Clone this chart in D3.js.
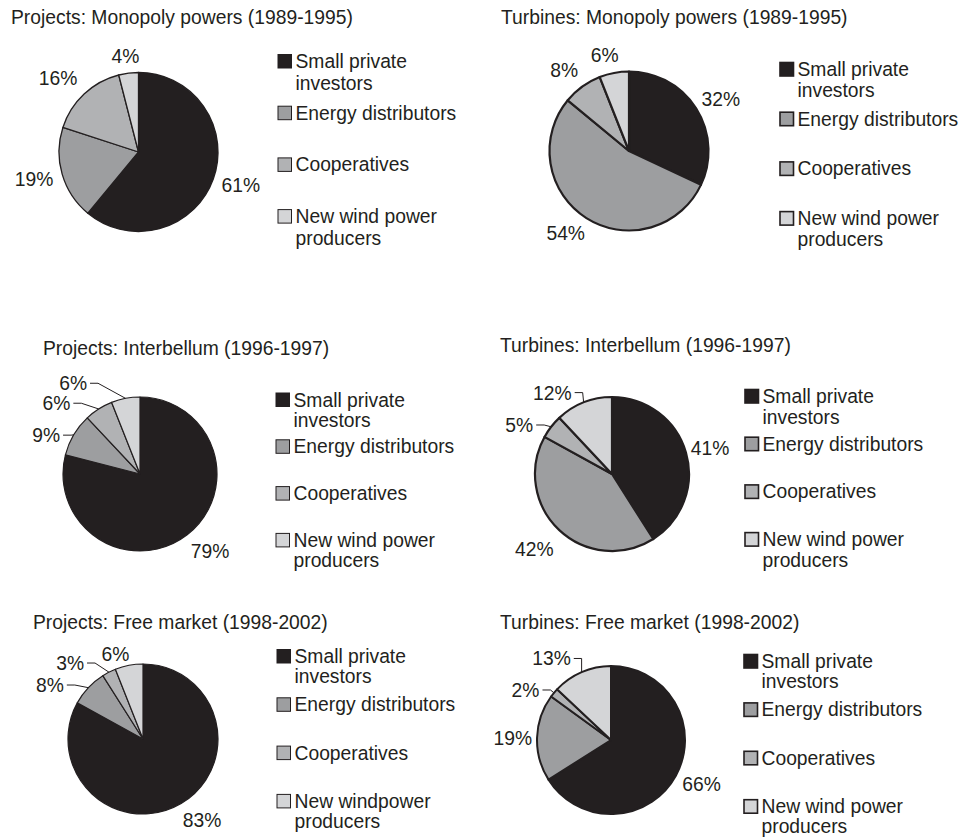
<!DOCTYPE html>
<html>
<head>
<meta charset="utf-8">
<script src="https://cdn.jsdelivr.net/npm/d3@7"></script>
<style>
  body { margin: 0; background: #fff; }
  text { font-family: "Liberation Sans", Arial, sans-serif; fill: #231f20; }
</style>
</head>
<body>
<div id="chart"></div>
<script>
// shares in % per owner category, clockwise from 12 o'clock
const categories = ["Small private investors", "Energy distributors", "Cooperatives", "New wind power producers"]
const projectsMonopoly = [61, 19, 16, 4]
const turbinesMonopoly = [32, 54, 8, 6]
const projectsInterbellum = [79, 9, 6, 6]
const turbinesInterbellum = [41, 42, 5, 12]
const projectsFreeMarket = [83, 8, 3, 6]
const turbinesFreeMarket = [66, 19, 2, 13]

const titles = [
  "Projects: Monopoly powers (1989-1995)",
  "Turbines: Monopoly powers (1989-1995)",
  "Projects: Interbellum (1996-1997)",
  "Turbines: Interbellum (1996-1997)",
  "Projects: Free market (1998-2002)",
  "Turbines: Free market (1998-2002)"
]
const legendLines = [["Small private", "investors"], ["Energy distributors"], ["Cooperatives"], ["New wind power", "producers"]]
const legendLinesAlt = [["Small private", "investors"], ["Energy distributors"], ["Cooperatives"], ["New windpower", "producers"]]

const series = [projectsMonopoly, turbinesMonopoly, projectsInterbellum, turbinesInterbellum, projectsFreeMarket, turbinesFreeMarket]

// layout only (where each panel sits), kept apart from the values
const layout = [
  {tx: 11, ty: 23.5, cx: 138.5, cy: 152, r: 79.5, sw: 1.3, lx: 278, ly: 68, step: 51.7, lh: 21.5, legend: legendLines,
    nudge: {2: [-6, -4]}, leaders: []},
  {tx: 501, ty: 23.5, cx: 629, cy: 151, r: 79.5, sw: 2.2, lx: 780, ly: 76, step: 49.7, lh: 21, legend: legendLines,
    nudge: {1: [-5, 1], 2: [-4, -3], 3: [-5, -1.5]}, leaders: []},
  {tx: 43, ty: 354.5, cx: 140, cy: 474, r: 77, sw: 1.2, lx: 276, ly: 406.5, step: 46.8, lh: 20.5, legend: legendLines,
    nudge: {0: [5, 3], 1: [-7, 9], 2: [-29.5, 8.6], 3: [-48, 1.6]}, leaders: [1, 2, 3]},
  {tx: 500, ty: 352, cx: 612, cy: 474, r: 77, sw: 2.2, lx: 745, ly: 403, step: 47.7, lh: 20.5, legend: legendLines,
    nudge: {0: [-4, 0], 1: [-5, 7], 2: [-13, 8.6], 3: [-20.5, 6]}, leaders: [2, 3]},
  {tx: 33, ty: 628.5, cx: 143, cy: 739, r: 75, sw: 1.2, lx: 277, ly: 663, step: 48.3, lh: 20, legend: legendLinesAlt,
    nudge: {0: [6, 2], 1: [-21, 9], 2: [-28, 6], 3: [-9, 5]}, leaders: [1, 2]},
  {tx: 500, ty: 629, cx: 611, cy: 740, r: 74, sw: 2, lx: 744, ly: 668, step: 48.4, lh: 20, legend: legendLines,
    nudge: {1: [5, 1], 2: [-10, 8], 3: [-18.5, 2]}, leaders: [2, 3]}
]

const ink = "#231f20"
const color = d3.scaleOrdinal()
  .domain(categories)
  .range([ink, "#9d9ea0", "#b1b2b4", "#d4d5d7"])

const fontSize = 19.3
const capH = 13.8

const svg = d3.select("#chart").append("svg")
  .attr("width", 961)
  .attr("height", 839)

svg.append("rect").attr("width", 961).attr("height", 839).attr("fill", "#fff")

const pie = d3.pie().sort(null).value(d => d.value)

series.forEach((vals, i) => {
  const L = layout[i]
  const data = vals.map((v, k) => ({key: categories[k], value: v}))
  const arcs = pie(data)
  const g = svg.append("g")

  // title
  g.append("text")
    .attr("x", L.tx)
    .attr("y", L.ty)
    .attr("font-size", fontSize + "px")
    .text(titles[i])

  const arc = d3.arc().innerRadius(0).outerRadius(L.r)
  const pg = g.append("g").attr("transform", `translate(${L.cx},${L.cy})`)

  pg.selectAll("path")
    .data(arcs)
    .enter().append("path")
      .attr("d", arc)
      .attr("fill", d => color(d.data.key))
      .attr("stroke", ink)
      .attr("stroke-width", L.sw)
      .attr("stroke-linejoin", "round")

  // percentage labels, just outside the rim
  const pad = 10
  arcs.forEach((d, k) => {
    const a = (d.startAngle + d.endAngle) / 2
    const dx = Math.sin(a), dy = -Math.cos(a)
    const t = pg.append("text")
      .attr("font-size", fontSize + "px")
      .attr("text-anchor", "middle")
      .text(d.data.value + "%")
    const w = t.node().getComputedTextLength()
    const n = L.nudge[k] || [0, 0]
    const x = dx * (L.r + pad) + dx * w / 2 + n[0]
    const y = dy * (L.r + pad) + dy * 7 + n[1]
    t.attr("x", x).attr("y", y + capH / 2)

    if (L.leaders.includes(k)) {
      const x0 = x + w / 2 + 3
      const ex = dx * L.r, ey = dy * L.r
      const elbow = Math.min(x0 + 8, ex)
      pg.append("path")
        .attr("d", d3.line()([[x0, y], [elbow, y], [ex, ey]]))
        .attr("fill", "none")
        .attr("stroke", ink)
        .attr("stroke-width", 1)
    }
  })

  // legend
  const sq = 13.5
  const lg = g.append("g")
  categories.forEach((c, k) => {
    const by = L.ly + k * L.step
    lg.append("rect")
      .attr("x", L.lx)
      .attr("y", by - sq)
      .attr("width", sq)
      .attr("height", sq)
      .attr("fill", color(c))
      .attr("stroke", ink)
      .attr("stroke-width", L.sw > 1.5 ? 1.6 : 1)
    const tx = lg.append("text")
      .attr("x", L.lx + sq + 4)
      .attr("y", by)
      .attr("font-size", fontSize + "px")
    L.legend[k].forEach((line, j) => {
      tx.append("tspan")
        .attr("x", L.lx + sq + 4)
        .attr("dy", j === 0 ? 0 : L.lh)
        .text(line)
    })
  })
})
</script>
</body>
</html>
